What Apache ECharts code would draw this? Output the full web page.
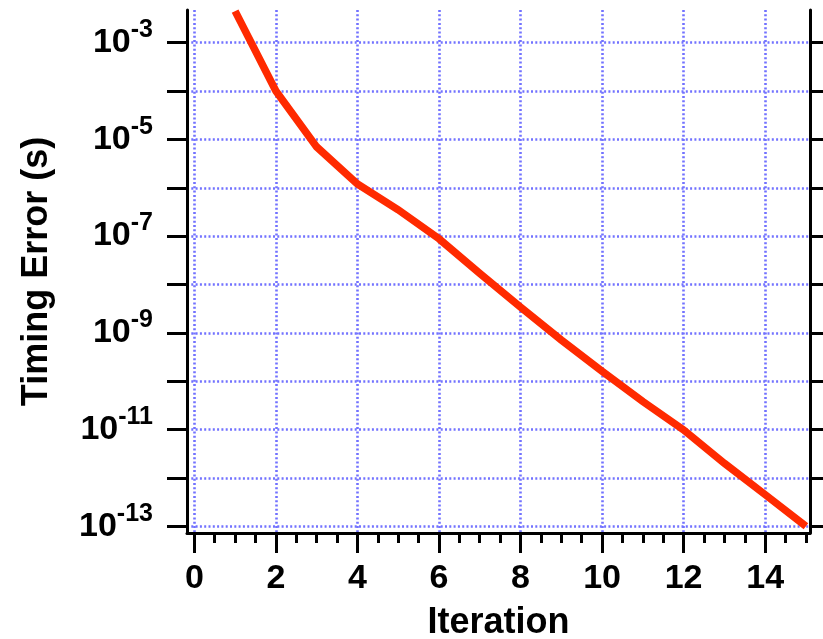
<!DOCTYPE html>
<html>
<head>
<meta charset="utf-8">
<script src="https://cdn.jsdelivr.net/npm/echarts@6/dist/echarts.min.js"></script>
<style>
html,body{margin:0;padding:0;background:#fff;}
#chart{width:823px;height:639px;}
</style>
</head>
<body>
<div id="chart"></div>
<script>
// ---- data ----
const iterations = [1, 2, 3, 4, 5, 6, 7, 8, 9, 10, 11, 12, 13, 14, 15];
const timingError = [4.5e-3, 1.0e-4, 7.0e-6, 1.2e-6, 3.5e-7, 8.8e-8, 1.7e-8, 3.4e-9, 7.1e-10, 1.6e-10, 3.8e-11, 9.8e-12, 2.0e-12, 4.5e-13, 1.0e-13];
const xMajorTicks = [0, 2, 4, 6, 8, 10, 12, 14];
const xMinorTicks = [0.5, 1, 1.5, 2.5, 3, 3.5, 4.5, 5, 5.5, 6.5, 7, 7.5, 8.5, 9, 9.5, 10.5, 11, 11.5, 12.5, 13, 13.5, 14.5, 15];
const yDecadeExponents = [-13, -12, -11, -10, -9, -8, -7, -6, -5, -4, -3];
const yLabelExponents = [-13, -11, -9, -7, -5, -3];
const xTitle = 'Iteration';
const yTitle = 'Timing Error (s)';

// ---- chart ----
const FONT = '"Liberation Sans", Arial, Helvetica, sans-serif';
const X_MIN = -0.18, X_MAX = 15.1;
const Y_MIN = -13.14, Y_MAX = -2.324;
const gridLine = { show: true, lineStyle: { color: '#7272ff', width: 2.6, type: [2, 2.3] } };

const seriesData = iterations.map((it, i) => [it, Math.log10(timingError[i])]);

const chart = echarts.init(document.getElementById('chart'), null, { renderer: 'canvas' });
chart.setOption({
  animation: false,
  backgroundColor: '#ffffff',
  grid: { left: 187, right: 13, top: 10, bottom: 106, containLabel: false, outerBoundsMode: 'none' },
  xAxis: [
    {
      type: 'value', position: 'bottom', min: X_MIN, max: X_MAX,
      name: xTitle, nameLocation: 'middle', nameGap: 72,
      nameTextStyle: { fontFamily: FONT, fontWeight: 'bold', fontSize: 36, color: '#000' },
      axisLine: { show: true, onZero: false, lineStyle: { color: '#000', width: 3 } },
      axisTick: { show: true, length: 20, customValues: xMajorTicks, lineStyle: { color: '#000', width: 3 } },
      minorTick: { show: false },
      axisLabel: { show: true, customValues: xMajorTicks, margin: 29, fontFamily: FONT, fontWeight: 'bold', fontSize: 34, color: '#000' },
      splitLine: gridLine
    },
    {
      type: 'value', position: 'bottom', min: X_MIN, max: X_MAX,
      axisLine: { show: false, onZero: false },
      axisTick: { show: true, length: 10, customValues: xMinorTicks, lineStyle: { color: '#000', width: 3 } },
      axisLabel: { show: false },
      splitLine: { show: false }
    }
  ],
  yAxis: [
    {
      type: 'value', position: 'left', min: Y_MIN, max: Y_MAX,
      name: yTitle, nameLocation: 'middle', nameGap: 132, nameRotate: 90,
      nameTextStyle: { fontFamily: FONT, fontWeight: 'bold', fontSize: 36, color: '#000' },
      axisLine: { show: true, onZero: false, lineStyle: { color: '#000', width: 3 } },
      axisTick: { show: true, length: 20, customValues: yDecadeExponents, lineStyle: { color: '#000', width: 3 } },
      axisLabel: {
        show: true, customValues: yLabelExponents, margin: 34,
        formatter: v => '{b|10}{s|' + Math.round(v) + '}',
        rich: {
          b: { fontFamily: FONT, fontWeight: 'bold', fontSize: 34, color: '#000', lineHeight: 50 },
          s: { fontFamily: FONT, fontWeight: 'bold', fontSize: 25, color: '#000', lineHeight: 20, verticalAlign: 'top' }
        }
      },
      splitLine: gridLine
    },
    {
      type: 'value', position: 'right', min: Y_MIN, max: Y_MAX,
      axisLine: { show: true, onZero: false, lineStyle: { color: '#000', width: 3 } },
      axisTick: { show: true, length: 13, customValues: yDecadeExponents, lineStyle: { color: '#000', width: 3 } },
      axisLabel: { show: false },
      splitLine: { show: false }
    }
  ],
  series: [
    {
      type: 'line', xAxisIndex: 0, yAxisIndex: 0,
      data: seriesData, showSymbol: false, symbol: 'none', clip: false,
      lineStyle: { color: '#ff2a00', width: 7.5, join: 'miter' }
    }
  ]
});
</script>
</body>
</html>
